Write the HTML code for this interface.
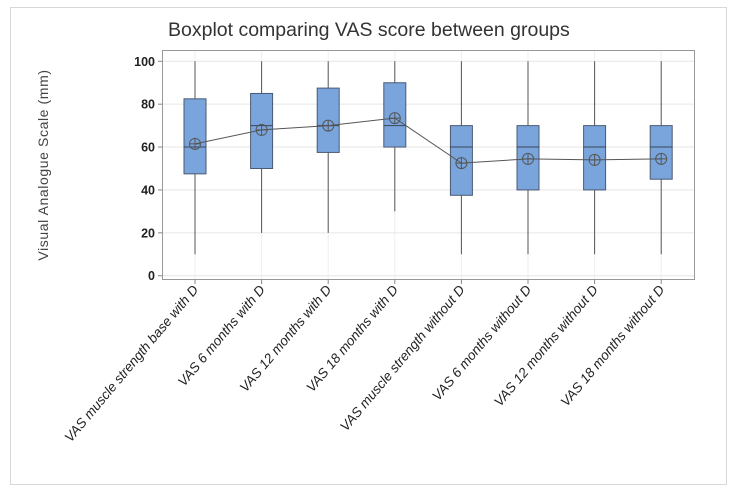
<!DOCTYPE html>
<html><head><meta charset="utf-8"><style>
body{margin:0;background:#fff;}
svg{display:block;font-family:"Liberation Sans",sans-serif;}
</style></head><body>
<svg id="c" width="736" height="493" viewBox="0 0 736 493">
<rect x="10.5" y="7.5" width="716" height="477" fill="#fff" stroke="#d8d8d8"/>
<text x="168" y="36" font-size="19.5" fill="#333">Boxplot comparing VAS score between groups</text>
<text transform="translate(48,165) rotate(-90)" text-anchor="middle" font-size="14" letter-spacing="0.6" fill="#444">Visual Analogue Scale (mm)</text>
<g id="grid"></g>
<rect x="162.5" y="50.5" width="532" height="229" fill="none" stroke="#999"/>
<g id="marks"></g>
</svg>
<script>
const categories=["VAS muscle strength base with D","VAS 6 months with D","VAS 12 months with D","VAS 18 months with D","VAS muscle strength without D","VAS 6 months without D","VAS 12 months without D","VAS 18 months without D"];
const whiskLow=[10,20,20,30,10,10,10,10];
const whiskHigh=[100,100,100,100,100,100,100,100];
const q1=[47.5,50,57.5,60,37.5,40,40,45];
const median=[60,70,70,70,60,60,60,60];
const q3=[82.5,85,87.5,90,70,70,70,70];
const means=[61.5,68,70,73.5,52.5,54.5,54,54.5];
const yTicks=[0,20,40,60,80,100];
const NS="http://www.w3.org/2000/svg";
const y=v=>275.7-v*2.144;
const x=i=>195+i*66.6;
const grid=document.getElementById('grid'),marks=document.getElementById('marks');
function mk(tag,attrs,parent){const e=document.createElementNS(NS,tag);for(const k in attrs)e.setAttribute(k,attrs[k]);parent.appendChild(e);return e;}
yTicks.forEach(t=>{
 const l=mk('line',{x1:162,x2:695,y1:y(t),y2:y(t),stroke:'#e6e6e6'},grid);
 
 
 const tk=mk('line',{x1:158,x2:162,y1:y(t),y2:y(t),stroke:'#888'},grid);
 
 
 const tx=mk('text',{x:155,y:y(t)+4.5,'text-anchor':'end','font-size':12.5,'font-weight':'bold',fill:'#222'},grid);
 tx.textContent=t;
 
 
});
categories.forEach((c,i)=>{
 const gl=mk('line',{x1:x(i),x2:x(i),y1:50,y2:279,stroke:'#eeeeee'},grid);
 
 
 const tk=mk('line',{x1:x(i),x2:x(i),y1:280,y2:284,stroke:'#888'},grid);
 
 
 const tx=mk('text',{transform:`translate(${x(i)+4},${290}) rotate(-50)`,'text-anchor':'end','font-size':13.5,'font-style':'italic',fill:'#222'},grid);
 tx.textContent=c;
 
 
});
categories.forEach((c,i)=>{
 const w=mk('line',{x1:x(i),x2:x(i),y1:y(whiskHigh[i]),y2:y(whiskLow[i]),stroke:'#555'},marks);
 
 
 const b=mk('rect',{x:x(i)-11,y:y(q3[i]),width:22,height:y(q1[i])-y(q3[i]),fill:'#7aa5dc',stroke:'#4a5a72'},marks);
 
 
 const m=mk('line',{x1:x(i)-11,x2:x(i)+11,y1:y(median[i]),y2:y(median[i]),stroke:'#3a4558'},marks);
 
 
});
const pts=means.map((v,i)=>x(i)+','+y(v)).join(' ');
const pl=mk('polyline',{points:pts,fill:'none',stroke:'#555'},marks);


means.forEach((v,i)=>{
 const g=mk('g',{},marks);
 
 
 mk('circle',{cx:x(i),cy:y(v),r:5.5,fill:'none',stroke:'#555'},g);
 mk('line',{x1:x(i)-5.5,x2:x(i)+5.5,y1:y(v),y2:y(v),stroke:'#555'},g);
 mk('line',{x1:x(i),x2:x(i),y1:y(v)-5.5,y2:y(v)+5.5,stroke:'#555'},g);
});
</script>
</body></html>
